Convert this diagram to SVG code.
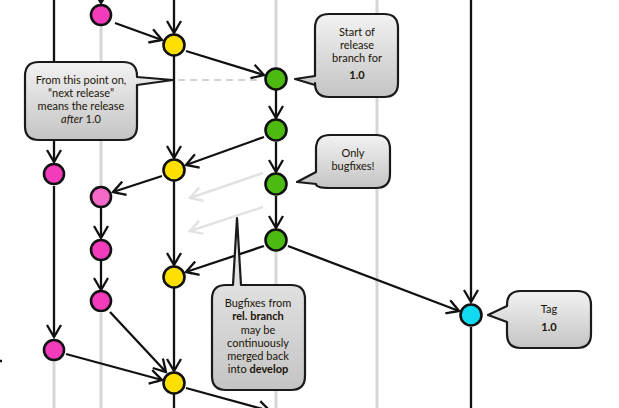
<svg xmlns="http://www.w3.org/2000/svg" width="619" height="408" viewBox="0 0 619 408">
<defs>
<style>
.lane{stroke:#d6d6d6;stroke-width:3;fill:none}
.blk{stroke:#111;stroke-width:2.3;fill:none}
.arr{stroke:#111;stroke-width:2.3;fill:none;marker-end:url(#ah)}
.garr{stroke:#e2e2e2;stroke-width:2.5;fill:none;marker-end:url(#gah)}
.node{stroke:#111;stroke-width:2.6}
.pink{fill:#f23cbc}
.lpink{fill:#f56ac8}
.yel{fill:#fde000}
.grn{fill:#4cba10}
.cyan{fill:#12d9f2}
.call{fill:url(#cg);stroke:#1a1a1a;stroke-width:2.2;stroke-linejoin:round}
.t{font-family:Lato,"Liberation Sans",sans-serif;font-size:11px;fill:#1a1408;text-anchor:middle}
.b{font-weight:bold}
</style>
<linearGradient id="cg" x1="0" y1="0" x2="0" y2="1">
<stop offset="0" stop-color="#f2f2f2"/>
<stop offset="1" stop-color="#c4c4c4"/>
</linearGradient>
<marker id="ah" viewBox="-14 -8 16 16" markerWidth="16" markerHeight="16" refX="0" refY="0" orient="auto" markerUnits="userSpaceOnUse">
<path d="M-12,-7 L0,0 L-12,7 M-5,-3 L0,0 L-5,3" fill="none" stroke="#111" stroke-width="2.3" stroke-linejoin="miter"/>
</marker>
<marker id="gah" viewBox="-14 -8 16 16" markerWidth="16" markerHeight="16" refX="0" refY="0" orient="auto" markerUnits="userSpaceOnUse">
<path d="M-12,-7 L0,0 L-12,7" fill="none" stroke="#e2e2e2" stroke-width="2.5"/>
</marker>
</defs>
<rect width="619" height="408" fill="#fff"/>
<g id="connectors">
<line class="lane" x1="377" y1="0" x2="377" y2="408"/>
<line class="lane" x1="276" y1="0" x2="276" y2="68"/>
<line class="lane" x1="276" y1="252" x2="276" y2="408"/>
<line class="lane" x1="101" y1="26" x2="101" y2="186"/>
<line class="lane" x1="101" y1="313" x2="101" y2="408"/>
<line class="lane" x1="54" y1="361" x2="54" y2="408"/>
<line x1="178" y1="80" x2="262" y2="80" stroke="#d2d2d2" stroke-width="2" stroke-dasharray="7 5"/>
<line class="garr" x1="263" y1="173" x2="190" y2="198"/>
<line class="garr" x1="263" y1="207" x2="190" y2="231"/>
<line class="arr" x1="54" y1="0" x2="54" y2="162"/>
<line class="arr" x1="54" y1="186" x2="54" y2="337"/>
<line class="arr" x1="101" y1="-20" x2="101" y2="3"/>
<line class="arr" x1="101" y1="208" x2="101" y2="238"/>
<line class="arr" x1="101" y1="261" x2="101" y2="290"/>
<line class="arr" x1="174" y1="0" x2="174" y2="33"/>
<line class="arr" x1="174" y1="56" x2="174" y2="158"/>
<line class="arr" x1="174" y1="181" x2="174" y2="265"/>
<line class="arr" x1="174" y1="288" x2="174" y2="371"/>
<line class="blk" x1="174" y1="394" x2="174" y2="408"/>
<line class="arr" x1="276" y1="90" x2="276" y2="118"/>
<line class="arr" x1="276" y1="142" x2="276" y2="172"/>
<line class="arr" x1="276" y1="196" x2="276" y2="228"/>
<line class="arr" x1="471" y1="0" x2="471" y2="302"/>
<line class="blk" x1="471" y1="327" x2="471" y2="408"/>
<line class="arr" x1="115" y1="23" x2="162" y2="40"/>
<line class="arr" x1="186" y1="51" x2="264" y2="75"/>
<line class="arr" x1="264" y1="137" x2="186" y2="165"/>
<line class="arr" x1="162" y1="176" x2="113" y2="192"/>
<line class="arr" x1="264" y1="246" x2="186" y2="272"/>
<line class="arr" x1="288" y1="246" x2="459" y2="311"/>
<line class="arr" x1="110" y1="312" x2="166" y2="372"/>
<line class="arr" x1="66" y1="354" x2="162" y2="380"/>
<line class="arr" x1="186" y1="388" x2="270" y2="411"/>
<line class="blk" x1="0" y1="361" x2="2" y2="361"/>
</g>
<g id="n-pink1"><circle class="node pink" cx="101" cy="15" r="10"/></g>
<g id="n-yel1"><circle class="node yel" cx="174" cy="45" r="10.5"/></g>
<g id="n-grn1"><circle class="node grn" cx="276" cy="79" r="10.5"/></g>
<g id="n-grn2"><circle class="node grn" cx="276" cy="130" r="10.5"/></g>
<g id="n-yel2"><circle class="node yel" cx="174" cy="170" r="10.5"/></g>
<g id="n-pink2"><circle class="node pink" cx="54" cy="174" r="10"/></g>
<g id="n-grn3"><circle class="node grn" cx="276" cy="184" r="10.5"/></g>
<g id="n-pink3"><circle class="node lpink" cx="101" cy="197" r="10"/></g>
<g id="n-grn4"><circle class="node grn" cx="276" cy="240" r="10.5"/></g>
<g id="n-pink4"><circle class="node pink" cx="101" cy="250" r="10"/></g>
<g id="n-yel3"><circle class="node yel" cx="174" cy="277" r="10.5"/></g>
<g id="n-pink5"><circle class="node pink" cx="101" cy="301" r="10"/></g>
<g id="n-cyan"><circle class="node cyan" cx="471" cy="315" r="10.5"/></g>
<g id="n-pink6"><circle class="node pink" cx="54" cy="350" r="10"/></g>
<g id="n-yel4"><circle class="node yel" cx="174" cy="383" r="10.5"/></g>
<g id="c-next">
<path class="call" d="M39,62 H123 Q137,62 137,76 V77 L173,80 L137,85 V126 Q137,140 123,140 H39 Q25,140 25,126 V76 Q25,62 39,62 Z"/>
<text class="t" x="81" y="84">From this point on,</text>
<text class="t" x="81" y="97">“next release”</text>
<text class="t" x="81" y="110">means the release</text>
<text class="t" x="81" y="123"><tspan font-style="italic">after</tspan> 1.0</text>
</g>
<g id="c-start">
<path class="call" d="M329,14 H384 Q398,14 398,28 V83 Q398,97 384,97 H329 Q315,97 315,83 V85 L295,79 L315,76 V28 Q315,14 329,14 Z"/>
<text class="t" x="357" y="36">Start of</text>
<text class="t" x="357" y="49">release</text>
<text class="t" x="357" y="62">branch for</text>
<text class="t b" x="357" y="79" font-size="15">1.0</text>
</g>
<g id="c-only">
<path class="call" d="M330,135 H376 Q390,135 390,149 V174 Q390,188 376,188 H330 Q316,188 316,184 L297,182 L316,172 V149 Q316,135 330,135 Z"/>
<text class="t" x="353" y="157">Only</text>
<text class="t" x="353" y="170">bugfixes!</text>
</g>
<g id="c-bugfix">
<path class="call" d="M226,285 H233 L237,218 L241,285 H291 Q305,285 305,299 V376 Q305,390 291,390 H226 Q212,390 212,376 V299 Q212,285 226,285 Z"/>
<text class="t" x="258" y="307">Bugfixes from</text>
<text class="t b" x="258" y="320">rel. branch</text>
<text class="t" x="258" y="334">may be</text>
<text class="t" x="258" y="347">continuously</text>
<text class="t" x="258" y="360">merged back</text>
<text class="t" x="258" y="373">into <tspan class="b">develop</tspan></text>
</g>
<g id="c-tag">
<path class="call" d="M521,291 H577 Q591,291 591,305 V334 Q591,348 577,348 H521 Q507,348 507,334 V322 L488,315 L507,306 V305 Q507,291 521,291 Z"/>
<text class="t" x="549" y="313">Tag</text>
<text class="t b" x="549" y="331" font-size="16">1.0</text>
</g>
</svg>
